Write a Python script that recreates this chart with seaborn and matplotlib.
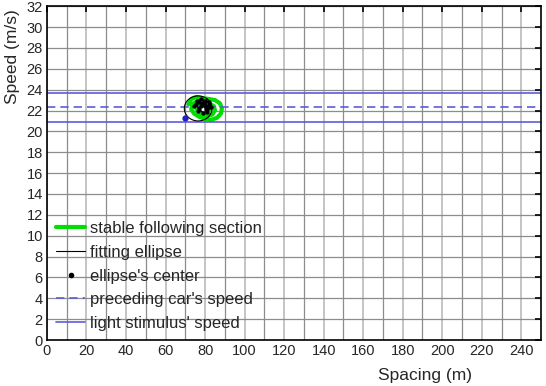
"""Speed vs spacing: stable following section with fitted ellipse."""
import matplotlib
matplotlib.use("Agg")
import matplotlib.pyplot as plt
from matplotlib.patches import Ellipse
from matplotlib.ticker import MultipleLocator
import seaborn as sns

sns.set_theme(style="white")
plt.rcParams["font.family"] = ["Liberation Sans", "DejaVu Sans"]

BLUE = "#5c5cd8"

# stable following trajectory (spacing m, speed m/s)
green_x = [71.5, 73.0, 75.5, 78.5, 82.0, 85.0, 87.5, 88.5, 88.0, 86.0, 83.0, 80.0, 77.0, 74.5,
           73.0, 73.5, 76.0, 79.0, 82.0, 84.5, 85.0, 83.5, 80.5, 77.5, 75.5, 77.0, 80.0, 82.5]
green_y = [22.6, 23.1, 23.3, 23.2, 23.1, 23.0, 22.7, 22.2, 21.7, 21.3, 21.1, 21.2, 21.4, 21.7,
           22.1, 22.6, 22.9, 22.8, 22.7, 22.4, 22.0, 21.6, 21.5, 21.8, 22.2, 22.6, 22.5, 22.1]

# black trace of fitted centres
center_x = [74.5, 76.0, 78.0, 80.0, 82.0, 83.0, 81.0, 79.0, 77.0, 75.5, 77.0, 79.5, 81.5,
            80.0, 78.0, 76.5, 78.5, 80.5, 82.0]
center_y = [22.4, 22.9, 23.1, 22.9, 22.8, 22.3, 21.9, 21.8, 22.1, 22.6, 22.8, 22.5, 22.2,
            22.9, 22.4, 22.0, 22.7, 22.1, 22.6]

ellipse_center = (76.5, 22.2)
ellipse_width = 14.0
ellipse_height = 2.4

start_point = (69.8, 21.3)

preceding_speed = 22.3
stimulus_speeds = [23.7, 20.9]

fig, ax = plt.subplots(figsize=(5.46, 3.86), dpi=100)
fig.subplots_adjust(left=0.086, right=0.991, bottom=0.119, top=0.984)

ax.set_xlim(0, 250)
ax.set_ylim(0, 32)
ax.xaxis.set_major_locator(MultipleLocator(20))
ax.xaxis.set_minor_locator(MultipleLocator(10))
ax.yaxis.set_major_locator(MultipleLocator(2))
ax.grid(True, which="major", axis="x", color="#c4c4c4", lw=1.4)
ax.grid(True, which="minor", axis="x", color="#8c8c8c", lw=0.9)
ax.grid(True, which="major", axis="y", color="#8c8c8c", lw=0.9)
ax.set_axisbelow(True)

ax.plot(green_x, green_y, color="#00dd00", lw=3, label="stable following section")
ax.plot([], [], color="black", lw=0.8, label="fitting ellipse")
ax.add_patch(Ellipse(ellipse_center, ellipse_width, ellipse_height,
                     fill=False, ec="black", lw=0.8, zorder=3))
ax.plot(center_x, center_y, color="black", lw=1.0, zorder=3)
sns.scatterplot(x=center_x, y=center_y, color="black", s=8, marker="o",
                edgecolor="black", ax=ax, zorder=4)
ax.plot([], [], ls="none", marker=".", color="black", ms=6, label="ellipse's center")
ax.axhline(preceding_speed, color=BLUE, ls=(0, (5, 3)), lw=1.2, label="preceding car's speed")
for i, s in enumerate(stimulus_speeds):
    ax.axhline(s, color=BLUE, lw=1.2, label="light stimulus' speed" if i == 0 else None)
ax.plot(*start_point, marker="o", ms=3.5, color="#2020c0", ls="none", zorder=5)

for sp in ax.spines.values():
    sp.set_color("black")
    sp.set_linewidth(1.2)
ax.tick_params(which="major", direction="in", length=4, width=1.2, color="black",
               top=True, right=True, labelsize=10.5, pad=3)
ax.tick_params(which="minor", length=0)

ax.set_xlabel("Spacing (m)", fontsize=12.5)
ax.xaxis.set_label_coords(0.765, -0.085)
ax.set_ylabel("Speed (m/s)", fontsize=12.5)
ax.yaxis.set_label_coords(-0.054, 0.85)

ax.legend(loc="lower left", bbox_to_anchor=(0.0, 0.0), frameon=False, fontsize=12,
          handlelength=1.75, handletextpad=0.3, labelspacing=0.52, borderaxespad=0.15)

fig.savefig("out.png", dpi=100)
plt.close(fig)
